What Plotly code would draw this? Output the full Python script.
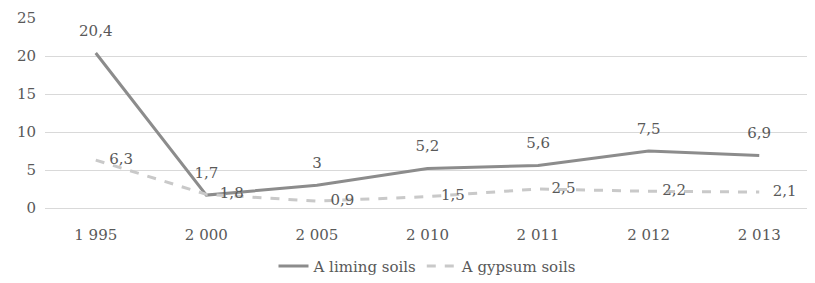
import plotly.graph_objects as go

years = ["1 995", "2 000", "2 005", "2 010", "2 011", "2 012", "2 013"]
liming = [20.4, 1.7, 3, 5.2, 5.6, 7.5, 6.9]
gypsum = [6.3, 1.8, 0.9, 1.5, 2.5, 2.2, 2.1]
liming_labels = ["20,4", "1,7", "3", "5,2", "5,6", "7,5", "6,9"]
gypsum_labels = ["6,3", "1,8", "0,9", "1,5", "2,5", "2,2", "2,1"]
y_ticks = [0, 5, 10, 15, 20, 25]

font = "DejaVu Serif"
txt = "#595959"
fs = 15

fig = go.Figure()
fig.add_trace(go.Scatter(
    x=years, y=liming, mode="lines+markers+text", name="A liming soils",
    line=dict(color="#8c8c8c", width=3),
    marker=dict(size=20, color="rgba(0,0,0,0)"),
    text=liming_labels, textposition="top center",
    textfont=dict(family=font, size=fs, color=txt),
))
fig.add_trace(go.Scatter(
    x=years, y=gypsum, mode="lines+markers+text", name="A gypsum soils",
    line=dict(color="#c9c9c9", width=3, dash="dash"),
    marker=dict(size=20, color="rgba(0,0,0,0)"),
    text=gypsum_labels, textposition="middle right",
    textfont=dict(family=font, size=fs, color=txt),
))

# page body has an 8px margin, so the figure is sized to end at the window edge
fig.update_layout(
    width=807, height=275,
    margin=dict(l=37, r=5, t=10, b=75, autoexpand=False),
    paper_bgcolor="white", plot_bgcolor="white",
    font=dict(family=font, size=fs, color=txt),
    showlegend=True,
    legend=dict(orientation="h", x=0.5, xanchor="center", y=-0.22, yanchor="top",
                font=dict(family=font, size=fs, color=txt)),
    xaxis=dict(type="category", showgrid=False, showline=True, linecolor="#d9d9d9",
               ticks="", ticklabelstandoff=13, automargin=False,
               tickfont=dict(family=font, size=fs, color=txt)),
    yaxis=dict(range=[0, 25], tickvals=y_ticks, showgrid=True, gridcolor="#d9d9d9",
               zeroline=False, showline=False, ticks="", ticklabelstandoff=8, automargin=False,
               tickfont=dict(family=font, size=fs, color=txt)),
)

fig.write_html("out.html")
